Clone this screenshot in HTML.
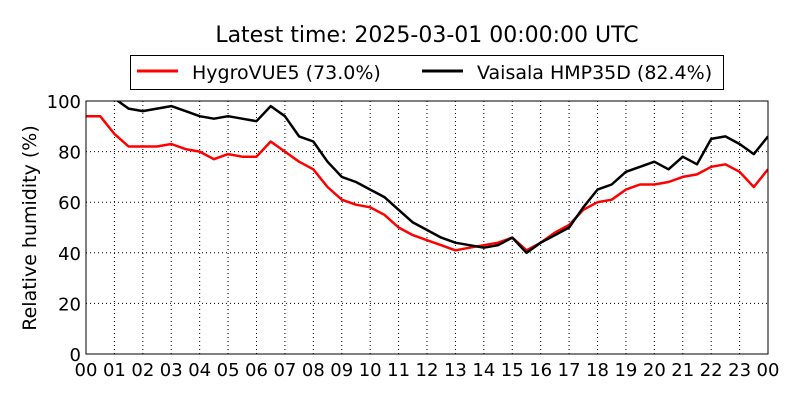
<!DOCTYPE html>
<html><head><meta charset="utf-8"><style>
body{margin:0;background:#fff;}
svg text{font-family:"DejaVu Sans","Liberation Sans",sans-serif;}
</style></head><body>
<svg id="chart" width="800" height="400" xmlns="http://www.w3.org/2000/svg">
<rect width="800" height="400" fill="#fff"/>
<text x="427" y="42" font-size="22" text-anchor="middle">Latest time: 2025-03-01 00:00:00 UTC</text>
<g>
<rect x="130.5" y="55.5" width="593" height="34" fill="#fff" stroke="#000" stroke-width="1"/>
<line x1="137" y1="71" x2="178" y2="71" stroke="#f00" stroke-width="3"/>
<text x="192" y="79" font-size="19">HygroVUE5 (73.0%)</text>
<line x1="422" y1="71" x2="463" y2="71" stroke="#000" stroke-width="3"/>
<text x="477" y="79" font-size="19">Vaisala HMP35D (82.4%)</text>
</g>
<text transform="translate(36,228) rotate(-90)" font-size="19" text-anchor="middle">Relative humidity (%)</text>
<defs><clipPath id="pc"><rect x="86" y="101" width="682" height="253"/></clipPath></defs>
<g id="grid"></g>
<g id="series" clip-path="url(#pc)"></g>
<rect x="86" y="101" width="682" height="253" fill="none" stroke="#000" stroke-width="1"/>
<g id="axes"></g>
</svg>
<script>
const hours = [0,0.5,1,1.5,2,2.5,3,3.5,4,4.5,5,5.5,6,6.5,7,7.5,8,8.5,9,9.5,10,10.5,11,11.5,12,12.5,13,13.5,14,14.5,15,15.5,16,16.5,17,17.5,18,18.5,19,19.5,20,20.5,21,21.5,22,22.5,23,23.5,24];
const hygroVUE5 = [94,94,87,82,82,82,83,81,80,77,79,78,78,84,80,76,73,66,61,59,58,55,50,47,45,43,41,42,43,44,46,41,44,48,51,57,60,61,65,67,67,68,70,71,74,75,72,66,73];
const hmp35d = [104,106,101,97,96,97,98,96,94,93,94,93,92,98,94,86,84,76,70,68,65,62,57,52,49,46,44,43,42,43,46,40,44,47,50,58,65,67,72,74,76,73,78,75,85,86,83,79,86];
const yTicks = [0,20,40,60,80,100];
const xTicks = ["00","01","02","03","04","05","06","07","08","09","10","11","12","13","14","15","16","17","18","19","20","21","22","23","00"];
const NS="http://www.w3.org/2000/svg";
const X0=86,X1=768,Y0=354,Y1=101;
const xs=h=>X0+(X1-X0)*h/24;
const ys=v=>Y0-(Y0-Y1)*v/100;
function mk(tag,attrs,parent){const e=document.createElementNS(NS,tag);for(const k in attrs)e.setAttribute(k,attrs[k]);parent.appendChild(e);return e;}
const grid=document.getElementById('grid'),axes=document.getElementById('axes'),series=document.getElementById('series');
yTicks.forEach(v=>{
  const y=ys(v);
  const g=mk('line',{x1:X0,x2:X1,y1:y,y2:y,stroke:'#000','stroke-width':1,'stroke-dasharray':'1,3'},grid);
  
  
  const t=mk('text',{x:X0-5,y:y+7,'font-size':18,'text-anchor':'end'},axes);
  t.textContent=v;
  
  
});
xTicks.forEach((lab,i)=>{
  const x=xs(i);
  const g=mk('line',{x1:x,x2:x,y1:Y1,y2:Y0,stroke:'#000','stroke-width':1,'stroke-dasharray':'1,3'},grid);
  
  
  const t=mk('text',{x:x,y:376,'font-size':18,'text-anchor':'middle'},axes);
  t.textContent=lab;
  
  
});
function line(vals,color,name){
  const d=vals.map((v,i)=>(i?'L':'M')+xs(hours[i]).toFixed(1)+','+ys(v).toFixed(1)).join('');
  const p=mk('path',{d:d,fill:'none',stroke:color,'stroke-width':2.5,'stroke-linejoin':'round'},series);
  
  
}
line(hygroVUE5,'#f00','hygrovue5-line');
line(hmp35d,'#000','hmp35d-line');
</script>
</body></html>
